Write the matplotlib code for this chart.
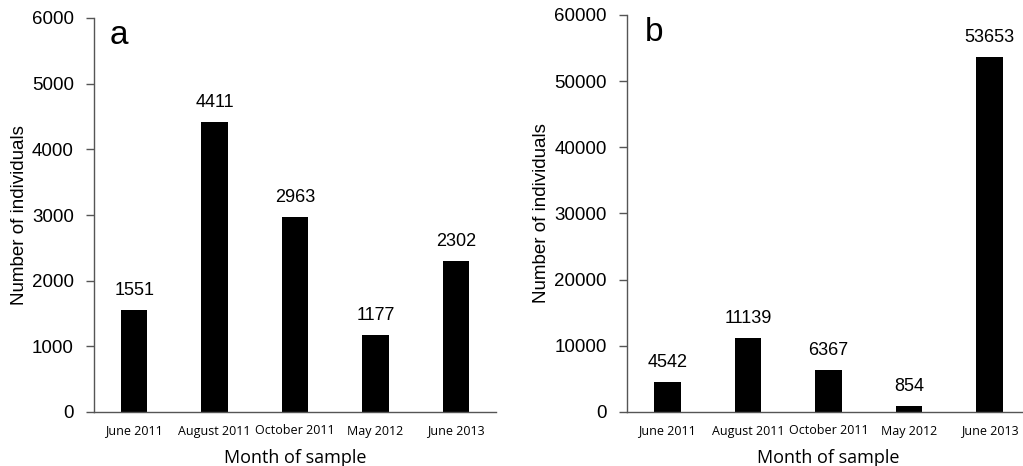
import matplotlib
matplotlib.use("Agg")
import matplotlib.pyplot as plt

plt.rcParams['font.family'] = ['Liberation Sans', 'DejaVu Sans']

months = ["June 2011", "August 2011", "October 2011", "May 2012", "June 2013"]
counts_a = [1551, 4411, 2963, 1177, 2302]
counts_b = [4542, 11139, 6367, 854, 53653]
yticks_a = [0, 1000, 2000, 3000, 4000, 5000, 6000]
yticks_b = [0, 10000, 20000, 30000, 40000, 50000, 60000]

fig = plt.figure(figsize=(10.23, 4.66), dpi=100)
ax_a = fig.add_axes([94/1023, 1-412/466, 402/1023, (412-18)/466])
ax_b = fig.add_axes([627/1023, 1-412/466, 403/1023, (412-15)/466])

def draw(ax, vals, yticks, letter, lx, ylx):
    x = list(range(len(months)))
    ax.bar(x, vals, width=0.33, color='black')
    ax.set_xlim(-0.5, 4.5)
    ax.set_ylim(yticks[0], yticks[-1])
    ax.set_yticks(yticks)
    ax.set_yticklabels([str(t) for t in yticks], fontsize=13.5)
    ax.set_xticks(x)
    ax.set_xticklabels(months, fontsize=9, family=['Open Sans', 'DejaVu Sans'])
    ax.tick_params(axis='x', length=0, pad=9)
    ax.tick_params(axis='y', length=6, width=1, color='#555555', pad=8.5)
    for s in ['top', 'right']:
        ax.spines[s].set_visible(False)
    for s in ['left', 'bottom']:
        ax.spines[s].set_color('#555555')
        ax.spines[s].set_linewidth(1)
    for xi, v in zip(x, vals):
        ax.annotate(str(v), (xi, v), xytext=(0, 8), textcoords='offset points',
                    ha='center', va='bottom', fontsize=13)
    ax.set_xlabel("Month of sample", fontsize=13, family=['Open Sans', 'DejaVu Sans'], labelpad=8)
    ax.set_ylabel("Number of individuals", fontsize=13.5)
    ax.yaxis.set_label_coords(ylx, 0.5)
    ax.text(lx, 0.995, letter, transform=ax.transAxes, fontsize=24, va='top', ha='left')

draw(ax_a, counts_a, yticks_a, 'a', 0.04, -0.165)
draw(ax_b, counts_b, yticks_b, 'b', 0.045, -0.19)

fig.savefig("out.png", dpi=100)
